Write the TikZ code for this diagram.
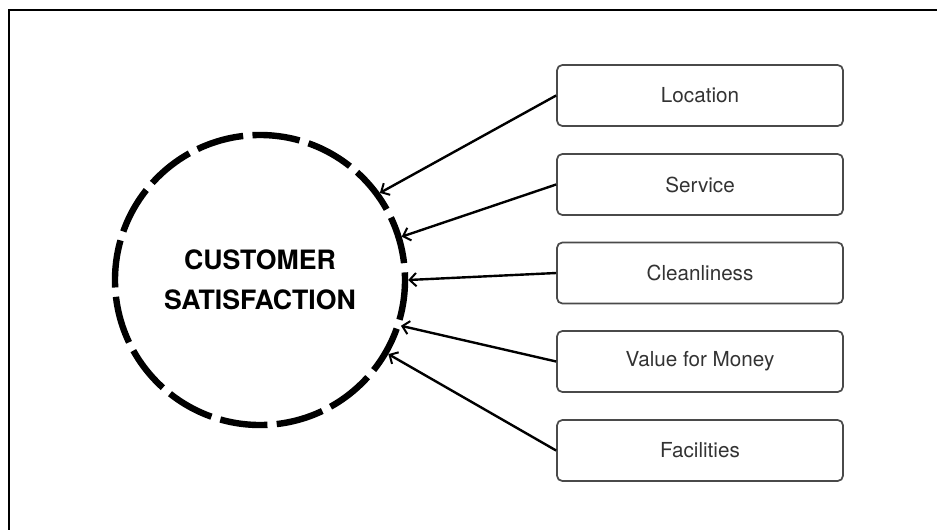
\documentclass[tikz,border=0pt]{standalone}
\usepackage{fontspec}
\setmainfont{TeX Gyre Heros}
\usetikzlibrary{arrows.meta}
\definecolor{boxline}{HTML}{4A4A4A}
\definecolor{boxtext}{HTML}{333333}
\tikzset{
  factor/.style={draw=boxline, line width=1.3pt, rounded corners=4pt,
    minimum width=214.5pt, minimum height=45.75pt, inner sep=0pt,
    text=boxtext, font=\fontsize{15.5}{18}\selectfont},
  hub/.style={circle, draw=black, line width=4.8pt,
    dash pattern=on 35.7pt off 7pt, dash phase=30pt,
    minimum size=217.5pt, inner sep=0pt, align=center,
    font=\fontsize{20}{30}\selectfont\bfseries},
  link/.style={line width=1.8pt, -{Straight Barb[length=5pt,width=10pt,line width=1.5pt]}},
}
\begin{document}
\begin{tikzpicture}[x=0.75pt, y=-0.75pt]
  \useasboundingbox (0,0) rectangle (937,529);
  % outer frame (top and left edges)
  \draw[line width=1.6pt] (9,535) -- (9,10) -- (945,10);

  \node[hub] (cs) at (260,280) {CUSTOMER\\SATISFACTION};

  \node[factor] (loc) at (700,95.5) {Location};
  \node[factor] (ser) at (700,184.5) {Service};
  \node[factor] (cle) at (700,273) {Cleanliness};
  \node[factor] (val) at (700,361.5) {Value for Money};
  \node[factor] (fac) at (700,450.5) {Facilities};

  \draw[link] (loc.west) -- (cs.36.5);
  \draw[link] (ser.west) -- (cs.17.6);
  \draw[link] (cle.west) -- (cs.0);
  \draw[link] (val.west) -- (cs.-18.3);
  \draw[link] (fac.west) -- (cs.-30.6);
\end{tikzpicture}
\end{document}
